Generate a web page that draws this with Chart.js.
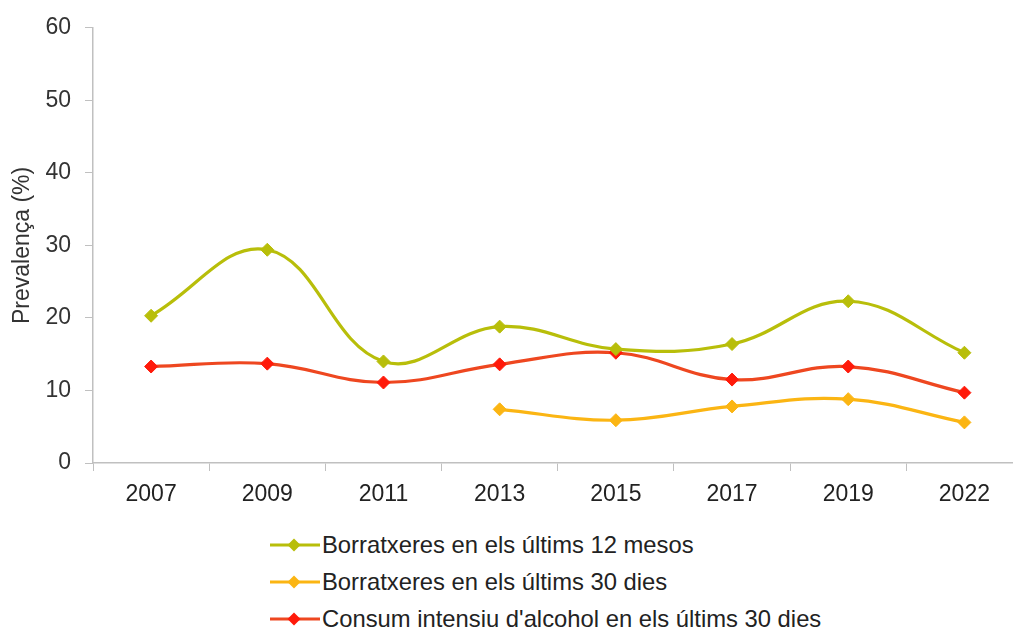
<!DOCTYPE html>
<html><head><meta charset="utf-8">
<script src="https://cdn.jsdelivr.net/npm/chart.js@4/dist/chart.umd.min.js"></script>
<style>
html,body{margin:0;padding:0;background:#fff;overflow:hidden;}
#wrap{position:relative;width:1013px;height:518px;overflow:hidden;}
#c{display:block;}
#legend{position:absolute;left:270px;top:526px;font-family:"Liberation Sans",Arial,sans-serif;font-size:23.8px;color:#222;}
.item{display:flex;align-items:center;height:37px;white-space:nowrap;}
.item svg{margin-right:2px;}
</style></head>
<body>
<div id="wrap"><canvas id="c" width="1030" height="518" style="width:1030px;height:518px"></canvas></div>
<div id="legend"></div>
<script>
const categories = ["2007","2009","2011","2013","2015","2017","2019","2022"];
const seriesNames = ["Borratxeres en els últims 12 mesos","Borratxeres en els últims 30 dies","Consum intensiu d'alcohol en els últims 30 dies"];
const borr12 = [20.3, 29.4, 14.0, 18.8, 15.7, 16.4, 22.3, 15.2];
const borr30 = [null, null, null, 7.4, 5.9, 7.8, 8.8, 5.6];
const consum30 = [13.3, 13.7, 11.1, 13.6, 15.2, 11.5, 13.3, 9.7];
const yTicks = [0, 10, 20, 30, 40, 50, 60];
const yTitle = "Prevalença (%)";

const lineColors = ["#b8be0a", "#fbb513", "#ee4720"];
const pointColors = ["#b8be0a", "#fbb513", "#ff1a0a"];
const seriesData = [borr12, borr30, consum30];

const font = {family: "'Liberation Sans', Arial, sans-serif", size: 23};
new Chart(document.getElementById('c'), {
  type: 'line',
  data: {
    labels: categories,
    datasets: seriesData.map((d, i) => ({
      label: seriesNames[i], data: d,
      borderColor: lineColors[i], backgroundColor: pointColors[i],
      pointBackgroundColor: pointColors[i], pointBorderColor: pointColors[i],
      borderWidth: 3.2, pointStyle: 'rectRot', pointRadius: 6.5, pointBorderWidth: 1,
      tension: 0.4, fill: false
    }))
  },
  options: {
    responsive: false, animation: false,
    layout: {padding: {top: 21, right: 0, bottom: 0, left: 0}},
    plugins: {legend: {display: false}, tooltip: {enabled: false}},
    scales: {
      x: {
        offset: true,
        grid: {offset: true, drawOnChartArea: false, tickLength: 8, color: '#c0c0c0'},
        border: {color: '#c0c0c0', width: 1.5},
        ticks: {font, color: '#222', padding: 10, maxRotation: 0},
        afterFit: s => { s.height = 55; }
      },
      y: {
        min: 0, max: 60,
        afterBuildTicks: s => { s.ticks = yTicks.map(v => ({value: v})); },
        grid: {drawOnChartArea: false, tickLength: 8, color: '#c0c0c0'},
        border: {color: '#c0c0c0', width: 1.5},
        ticks: {font, color: '#333', padding: 14},
        title: {display: true, text: yTitle, font, color: '#333', padding: {top: 9, bottom: 0}},
        afterFit: s => { s.width = 93; }
      }
    }
  }
});

const leg = document.getElementById('legend');
seriesNames.forEach((n, i) => {
  const div = document.createElement('div');
  div.className = 'item';
  div.innerHTML = `<svg width="50" height="16"><line x1="0" y1="8" x2="50" y2="8" stroke="${lineColors[i]}" stroke-width="3"/><polygon points="24,1.5 30.5,8 24,14.5 17.5,8" fill="${pointColors[i]}"/></svg><span>${n}</span>`;
  leg.appendChild(div);
});
</script>
</body></html>
